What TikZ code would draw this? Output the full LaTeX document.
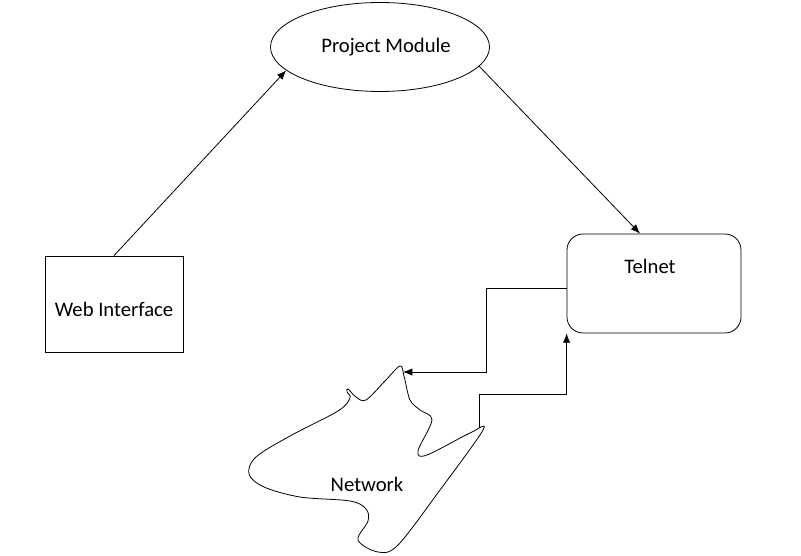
\documentclass[tikz,border=0pt]{standalone}
\usepackage{fontspec}
\setmainfont{Carlito}
\usetikzlibrary{shapes.geometric, arrows.meta}

\begin{document}
\begin{tikzpicture}[x=0.75pt, y=-0.75pt, line width=0.6pt, >={Latex[length=7pt, width=5.5pt]},
    every node/.style={font=\fontsize{15.5}{18}\selectfont},
    box/.style={draw, rectangle, inner sep=0pt},
    oval/.style={draw, ellipse, inner sep=0pt}]
    \useasboundingbox (0,0) rectangle (801,556);

    \node[oval, minimum width=164.25pt, minimum height=66.75pt] (pm) at (380,47) {};
    \node (pmtxt) at (386,47) {Project Module};
    \node[box, minimum width=103.5pt, minimum height=72pt] (web) at (114,304) {};
    \node (webtxt) at (114,309) {Web Interface};
    \node[box, rounded corners=12pt, minimum width=130.5pt, minimum height=74.25pt] (tel) at (654,283.5) {};
    \node (teltxt) at (650,266) {Telnet};

    % network cloud
    \draw plot[smooth cycle, tension=0.55] coordinates {
        (400,366) (385,381) (366,400) (356,397) (348,389) (347,392) (350,398) (338,411)
        (290,436) (256,457) (249,474) (264,487) (300,497) (350,501) (366,509)
        (368,521) (358,540) (378,552) (398,545) (440,490) (483,430) (470,433)
        (427,455) (418,451) (432,420) (420,410) (410,400) (404,376)};
    \node (net) at (367,484) {Network};
    \coordinate (ntop) at (403,372);
    \coordinate (ntip) at (479,428);
    \coordinate (bend1) at (486,372);
    \coordinate (bend2) at (479,394);

    \draw[->] (web.north) -- (pm.194);
    \draw[->] (pm.349) -- ([xshift=-10.5pt]tel.north);
    \draw[->] ([yshift=-4pt]tel.west) -| (bend1) -- (ntop);
    \draw[->] (ntip) -- (bend2) -| (tel.south west);
\end{tikzpicture}
\end{document}
